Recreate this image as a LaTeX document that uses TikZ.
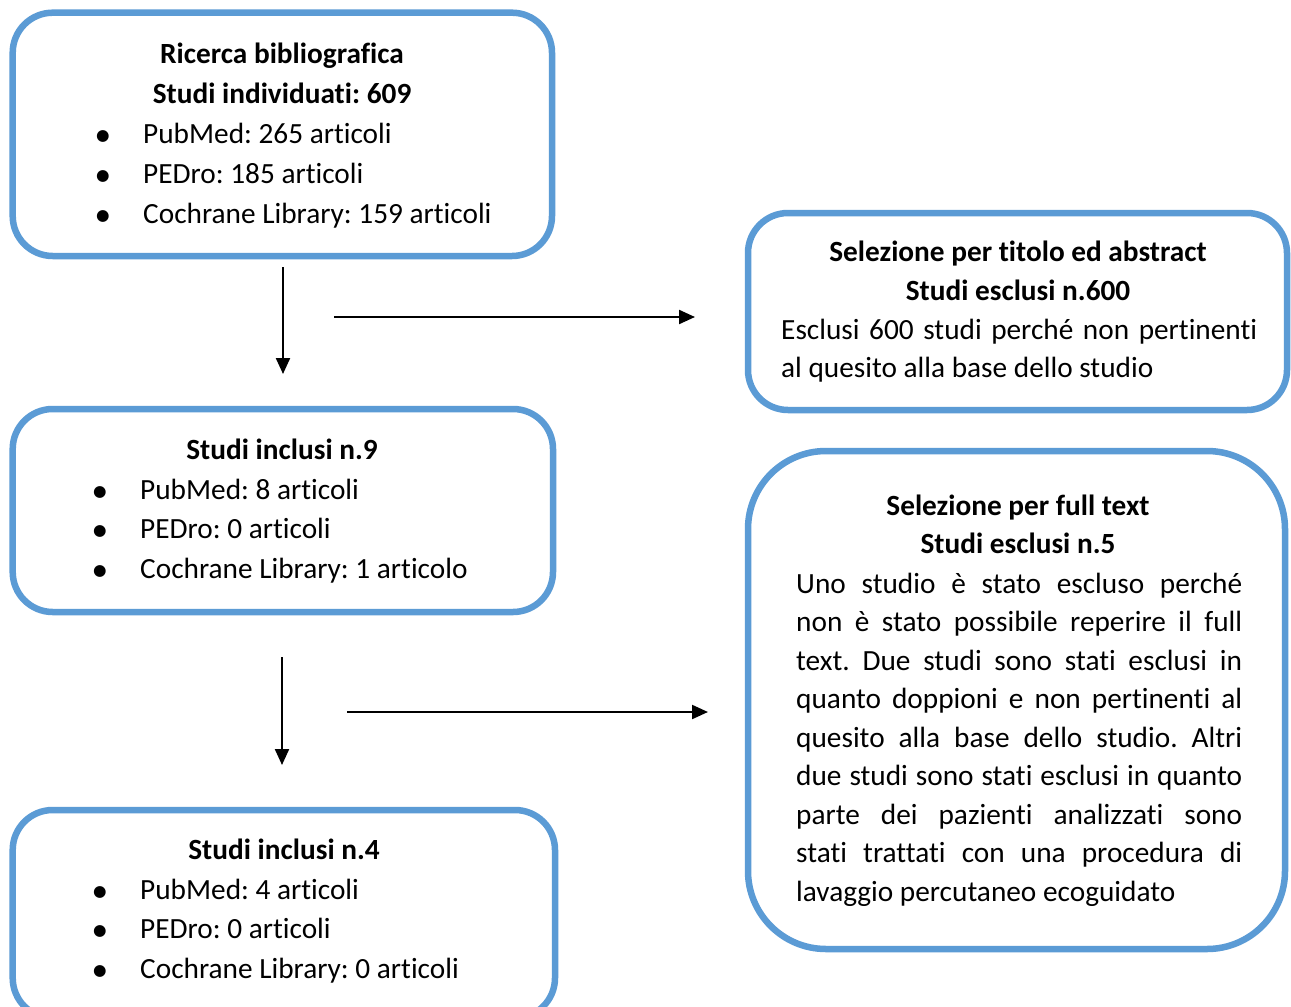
\documentclass[tikz,border=0pt]{standalone}
\usepackage{fontspec}
\setmainfont[Ligatures={NoCommon}]{Carlito}
\newfontfamily\symfont{DejaVu Sans}
\usetikzlibrary{arrows.meta,fit}
\definecolor{boxblue}{HTML}{5B9BD5}
\newcommand{\blt}{\makebox[47pt][l]{\raisebox{3pt}{\symfont\fontsize{15.5}{15.5}\selectfont ●}}}
\newcommand{\bodyfont}{\fontsize{29.3}{40}\selectfont\frenchspacing}
\tikzset{
  box/.style={draw=boxblue, line width=6.5pt, rounded corners=40pt, inner sep=0pt, rectangle},
  bigbox/.style={box, rounded corners=78pt},
  title/.style={anchor=base, inner sep=0pt, font=\bodyfont\bfseries},
  txt/.style={anchor=base west, inner sep=0pt, font=\bodyfont},
  arr/.style={line width=2.2pt, -{Triangle[length=16pt,width=14pt]}}
}
\begin{document}
\begin{tikzpicture}[x=1pt,y=-1pt]
\clip (0,0) rectangle (1291,1007);
\fill[white] (0,0) rectangle (1291,1007);
% boxes
\node[box, fit={(12.7,12.7) (552,256)}] (b1) {};
\node[box, fit={(748,213) (1287,410)}] (b2) {};
\node[box, fit={(12.7,409) (553,612)}] (b3) {};
\node[box, fit={(12.7,810) (555,1018)}] (b4) {};
\node[bigbox, fit={(748,451) (1285,949)}] (b5) {};
% box 1
\node[title] (t1) at (282,63) {\parbox[t]{500pt}{\centering\bodyfont\bfseries Ricerca bibliografica\\Studi individuati: 609}};
\node[txt] (l1) at (96,143) {\parbox[t]{450pt}{\bodyfont
\blt PubMed: 265 articoli\\
\blt PEDro: 185 articoli\\
\blt Cochrane Library: 159 articoli}};
% box 2
\node[title] (t2) at (1018,261) {\parbox[t]{520pt}{\centering\bodyfont\baselineskip=39pt\bfseries Selezione per titolo ed abstract\\Studi esclusi n.600}};
\node[txt] (l2) at (781,339) {\parbox[t]{476pt}{\bodyfont\baselineskip=38.5pt
\makebox[476pt][s]{Esclusi 600 studi perché non pertinenti}\\
al quesito alla base dello studio}};
% box 3
\node[title] (t3) at (282,459) {Studi inclusi n.9};
\node[txt] (l3) at (93,499) {\parbox[t]{450pt}{\bodyfont\baselineskip=39.5pt
\blt PubMed: 8 articoli\\
\blt PEDro: 0 articoli\\
\blt Cochrane Library: 1 articolo}};
% box 4
\node[title] (t4) at (284,859) {Studi inclusi n.4};
\node[txt] (l4) at (93,899) {\parbox[t]{450pt}{\bodyfont\baselineskip=39.5pt
\blt PubMed: 4 articoli\\
\blt PEDro: 0 articoli\\
\blt Cochrane Library: 0 articoli}};
% box 5
\node[title] (t5) at (1018,515) {\parbox[t]{520pt}{\centering\bodyfont\baselineskip=38.5pt\bfseries Selezione per full text\\Studi esclusi n.5}};
\node[txt] (l5) at (796,593) {\parbox[t]{446pt}{\bodyfont\baselineskip=38.5pt
\makebox[446pt][s]{Uno studio è stato escluso perché}\\
\makebox[446pt][s]{non è stato possibile reperire il full}\\
\makebox[446pt][s]{text. Due studi sono stati esclusi in}\\
\makebox[446pt][s]{quanto doppioni e non pertinenti al}\\
\makebox[446pt][s]{quesito alla base dello studio. Altri}\\
\makebox[446pt][s]{due studi sono stati esclusi in quanto}\\
\makebox[446pt][s]{parte dei pazienti analizzati sono}\\
\makebox[446pt][s]{stati trattati con una procedura di}\\
lavaggio percutaneo ecoguidato}};
% arrows
\coordinate (a1s) at (283,267);
\coordinate (a1e) at (283,374);
\coordinate (a2s) at (334,317);
\coordinate (a2e) at (695,317);
\coordinate (a3s) at (282,657);
\coordinate (a3e) at (282,765);
\coordinate (a4s) at (347,712);
\coordinate (a4e) at (708,712);
\draw[arr] (a1s) -- (a1e);
\draw[arr] (a2s) -- (a2e);
\draw[arr] (a3s) -- (a3e);
\draw[arr] (a4s) -- (a4e);
\end{tikzpicture}
\end{document}
